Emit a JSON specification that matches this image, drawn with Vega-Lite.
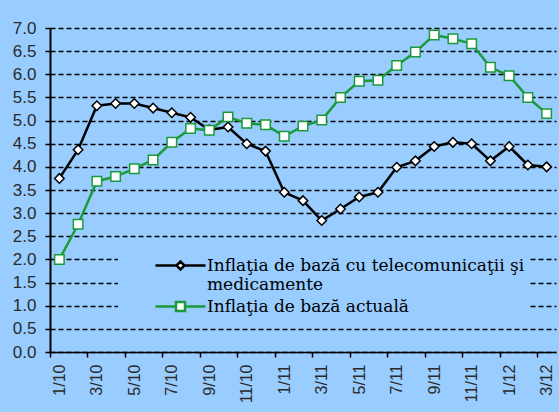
{
  "$schema": "https://vega.github.io/schema/vega-lite/v6.json",
  "width": 506,
  "height": 324,
  "autosize": "none",
  "padding": {"left": 50, "top": 28, "right": 3, "bottom": 60},
  "background": "#99CCFF",
  "config": {"view": {"stroke": null}, "font": "Liberation Sans"},
  "datasets": {
    "rows": [
      {"m": "1/10", "s": "Inflaţia de bază cu telecomunicaţii şi medicamente", "v": 3.75},
      {"m": "2/10", "s": "Inflaţia de bază cu telecomunicaţii şi medicamente", "v": 4.37},
      {"m": "3/10", "s": "Inflaţia de bază cu telecomunicaţii şi medicamente", "v": 5.32},
      {"m": "4/10", "s": "Inflaţia de bază cu telecomunicaţii şi medicamente", "v": 5.37},
      {"m": "5/10", "s": "Inflaţia de bază cu telecomunicaţii şi medicamente", "v": 5.37},
      {"m": "6/10", "s": "Inflaţia de bază cu telecomunicaţii şi medicamente", "v": 5.27},
      {"m": "7/10", "s": "Inflaţia de bază cu telecomunicaţii şi medicamente", "v": 5.17},
      {"m": "8/10", "s": "Inflaţia de bază cu telecomunicaţii şi medicamente", "v": 5.07},
      {"m": "9/10", "s": "Inflaţia de bază cu telecomunicaţii şi medicamente", "v": 4.80},
      {"m": "10/10", "s": "Inflaţia de bază cu telecomunicaţii şi medicamente", "v": 4.86},
      {"m": "11/10", "s": "Inflaţia de bază cu telecomunicaţii şi medicamente", "v": 4.50},
      {"m": "12/10", "s": "Inflaţia de bază cu telecomunicaţii şi medicamente", "v": 4.34},
      {"m": "1/11", "s": "Inflaţia de bază cu telecomunicaţii şi medicamente", "v": 3.45},
      {"m": "2/11", "s": "Inflaţia de bază cu telecomunicaţii şi medicamente", "v": 3.27},
      {"m": "3/11", "s": "Inflaţia de bază cu telecomunicaţii şi medicamente", "v": 2.84},
      {"m": "4/11", "s": "Inflaţia de bază cu telecomunicaţii şi medicamente", "v": 3.09},
      {"m": "5/11", "s": "Inflaţia de bază cu telecomunicaţii şi medicamente", "v": 3.35},
      {"m": "6/11", "s": "Inflaţia de bază cu telecomunicaţii şi medicamente", "v": 3.45},
      {"m": "7/11", "s": "Inflaţia de bază cu telecomunicaţii şi medicamente", "v": 3.99},
      {"m": "8/11", "s": "Inflaţia de bază cu telecomunicaţii şi medicamente", "v": 4.13},
      {"m": "9/11", "s": "Inflaţia de bază cu telecomunicaţii şi medicamente", "v": 4.44},
      {"m": "10/11", "s": "Inflaţia de bază cu telecomunicaţii şi medicamente", "v": 4.53},
      {"m": "11/11", "s": "Inflaţia de bază cu telecomunicaţii şi medicamente", "v": 4.50},
      {"m": "12/11", "s": "Inflaţia de bază cu telecomunicaţii şi medicamente", "v": 4.13},
      {"m": "1/12", "s": "Inflaţia de bază cu telecomunicaţii şi medicamente", "v": 4.44},
      {"m": "2/12", "s": "Inflaţia de bază cu telecomunicaţii şi medicamente", "v": 4.04},
      {"m": "3/12", "s": "Inflaţia de bază cu telecomunicaţii şi medicamente", "v": 4.00},
      {"m": "1/10", "s": "Inflaţia de bază actuală", "v": 2.00},
      {"m": "2/10", "s": "Inflaţia de bază actuală", "v": 2.76},
      {"m": "3/10", "s": "Inflaţia de bază actuală", "v": 3.69},
      {"m": "4/10", "s": "Inflaţia de bază actuală", "v": 3.79},
      {"m": "5/10", "s": "Inflaţia de bază actuală", "v": 3.96},
      {"m": "6/10", "s": "Inflaţia de bază actuală", "v": 4.15},
      {"m": "7/10", "s": "Inflaţia de bază actuală", "v": 4.53},
      {"m": "8/10", "s": "Inflaţia de bază actuală", "v": 4.83},
      {"m": "9/10", "s": "Inflaţia de bază actuală", "v": 4.79},
      {"m": "10/10", "s": "Inflaţia de bază actuală", "v": 5.08},
      {"m": "11/10", "s": "Inflaţia de bază actuală", "v": 4.94},
      {"m": "12/10", "s": "Inflaţia de bază actuală", "v": 4.91},
      {"m": "1/11", "s": "Inflaţia de bază actuală", "v": 4.66},
      {"m": "2/11", "s": "Inflaţia de bază actuală", "v": 4.88},
      {"m": "3/11", "s": "Inflaţia de bază actuală", "v": 5.01},
      {"m": "4/11", "s": "Inflaţia de bază actuală", "v": 5.50},
      {"m": "5/11", "s": "Inflaţia de bază actuală", "v": 5.85},
      {"m": "6/11", "s": "Inflaţia de bază actuală", "v": 5.87},
      {"m": "7/11", "s": "Inflaţia de bază actuală", "v": 6.19},
      {"m": "8/11", "s": "Inflaţia de bază actuală", "v": 6.48},
      {"m": "9/11", "s": "Inflaţia de bază actuală", "v": 6.85},
      {"m": "10/11", "s": "Inflaţia de bază actuală", "v": 6.77},
      {"m": "11/11", "s": "Inflaţia de bază actuală", "v": 6.66},
      {"m": "12/11", "s": "Inflaţia de bază actuală", "v": 6.15},
      {"m": "1/12", "s": "Inflaţia de bază actuală", "v": 5.97},
      {"m": "2/12", "s": "Inflaţia de bază actuală", "v": 5.50},
      {"m": "3/12", "s": "Inflaţia de bază actuală", "v": 5.15}
    ]
  },
  "data": {"name": "rows"},
  "encoding": {
    "x": {
      "field": "m", "type": "ordinal", "sort": null,
      "scale": {"type": "point", "padding": 0.5},
      "axis": {
        "title": null,
        "values": ["1/10","3/10","5/10","7/10","9/10","11/10","1/11","3/11","5/11","7/11","9/11","11/11","1/12","3/12"],
        "labelAngle": -90,
        "tickOffset": -9.37,
        "labelOffset": 9.37,
        "domainColor": "black", "domainWidth": 1.5,
        "tickColor": "black", "tickSize": 5, "tickWidth": 1.5,
        "labelFont": "Liberation Sans", "labelFontSize": 16, "labelColor": "#2a2a2a", "labelPadding": 7,
        "grid": false
      }
    },
    "y": {
      "field": "v", "type": "quantitative",
      "scale": {"domain": [0, 7], "nice": false},
      "axis": {
        "title": null,
        "values": [0,0.5,1,1.5,2,2.5,3,3.5,4,4.5,5,5.5,6,6.5,7],
        "format": ".1f",
        "grid": true, "gridColor": "black", "gridDash": [5, 3], "gridWidth": 1.3,
        "domainColor": "black", "domainWidth": 2,
        "tickColor": "black", "tickSize": 5, "tickWidth": 1.5,
        "labelFont": "Liberation Sans", "labelFontSize": 17, "labelColor": "#2a2a2a", "labelPadding": 9
      }
    },
    "color": {
      "field": "s", "type": "nominal",
      "scale": {"domain": ["Inflaţia de bază cu telecomunicaţii şi medicamente", "Inflaţia de bază actuală"], "range": ["#000000", "#1A9A3A"]},
      "legend": {
        "title": null,
        "orient": "none",
        "legendX": 68,
        "legendY": 221,
        "fillColor": "#99CCFF",
        "padding": 5,
        "symbolSize": 400,
        "symbolStrokeWidth": 2.5,
        "symbolOffset": 46,
        "labelOffset": 15,
        "symbolType": "M-2.5,0H-0.4M0.4,0H2.5M-0.4,0L0,-0.4L0.4,0L0,0.4Z",
        "symbolFillColor": "white",
        "labelFont": "DejaVu Serif",
        "labelFontSize": 17,
        "labelColor": "black",
        "labelLimit": 500,
        "labelExpr": "datum.value == 'Inflaţia de bază cu telecomunicaţii şi medicamente' ? ['Inflaţia de bază cu telecomunicaţii şi\u00a0\u00a0\u00a0\u00a0\u00a0', 'medicamente'] : datum.value",
        "encode": {
          "symbols": {
            "update": {
              "shape": {"signal": "datum.value == 'Inflaţia de bază cu telecomunicaţii şi medicamente' ? 'M-2.5,0H-0.4M0.4,0H2.5M-0.4,0L0,-0.4L0.4,0L0,0.4Z' : 'M-2.5,0H-0.45M0.45,0H2.5M-0.45,-0.45H0.45V0.45H-0.45Z'"}
            }
          }
        }
      }
    }
  },
  "layer": [
    {"mark": {"type": "line", "strokeWidth": 2.5}},
    {
      "transform": [{"filter": "datum.s == 'Inflaţia de bază cu telecomunicaţii şi medicamente'"}],
      "mark": {"type": "point", "shape": "diamond", "filled": false, "fill": "white", "fillOpacity": 1, "opacity": 1, "size": 90, "strokeWidth": 1.5}
    },
    {
      "transform": [{"filter": "datum.s == 'Inflaţia de bază actuală'"}],
      "mark": {"type": "point", "shape": "square", "filled": false, "fill": "white", "fillOpacity": 1, "opacity": 1, "size": 90, "strokeWidth": 1.5}
    }
  ]
}
